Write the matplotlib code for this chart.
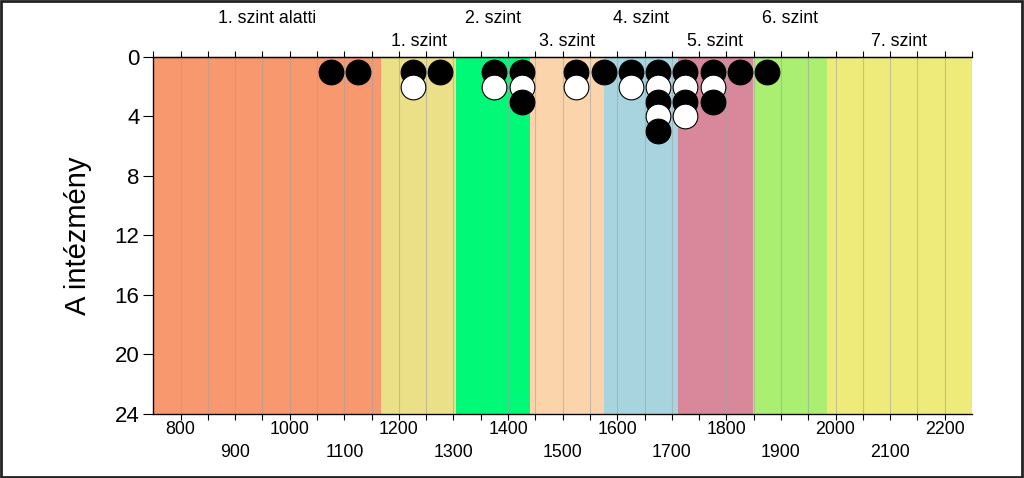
import numpy as np
import matplotlib
matplotlib.use('Agg')
import matplotlib.pyplot as plt
from matplotlib.patches import Rectangle

plt.rcParams['font.family'] = ['Liberation Sans', 'DejaVu Sans']

# szintek hatarai es feliratai
level_edges = [750, 1168, 1304, 1440, 1576, 1712, 1848, 1984, 2250]
level_names = ['1. szint alatti', '1. szint', '2. szint', '3. szint',
               '4. szint', '5. szint', '6. szint', '7. szint']
level_colors = ['#F8986F', '#EBDF88', '#00FA78', '#FCD4AC',
                '#A8D4E0', '#D9889B', '#AAEE72', '#EEEB7A']

# intezmenyek szama pontszam-savonkent
bin_centers = [1075, 1125, 1225, 1275, 1375, 1425, 1525, 1575,
               1625, 1675, 1725, 1775, 1825, 1875]
bin_counts = [1, 1, 2, 1, 2, 3, 2, 1, 2, 5, 4, 3, 1, 1]

yticks = [0, 4, 8, 12, 16, 20, 24]


def main():
    fig = plt.figure(figsize=(10.24, 4.78), dpi=100)
    ax = fig.add_axes([0.1497, 0.1339, 0.7995, 0.7469])

    for i in range(len(level_names)):
        ax.axvspan(level_edges[i], level_edges[i+1], color=level_colors[i], lw=0, zorder=0)

    for x in range(800, 2250, 50):
        ax.axvline(x, color='#a0a0a0', alpha=0.55, lw=0.8, zorder=1)

    # pontok: szintenkent rajzolva, hogy a felso takarja az alsot
    maxc = max(bin_counts)
    for lev in range(1, maxc+1):
        xs = [b for b, c in zip(bin_centers, bin_counts) if c >= lev]
        ys = [lev]*len(xs)
        if lev % 2 == 1:
            ax.plot(xs, ys, 'o', ms=17.8, mfc='black', mec='black', mew=0.8, zorder=2+lev, clip_on=False)
        else:
            ax.plot(xs, ys, 'o', ms=17.8, mfc='white', mec='black', mew=0.8, zorder=2+lev, clip_on=False)

    ax.set_xlim(750, 2250)
    ax.set_ylim(24, 0)
    ax.set_yticks(yticks)
    ax.tick_params(axis='y', labelsize=16, length=7, width=0.8, pad=3)
    ax.set_ylabel('A intézmény', fontsize=21, labelpad=16)

    major = list(range(800, 2250, 100))
    labels = [str(v) if (v // 100) % 2 == 0 else '\n' + str(v) for v in major]
    ax.set_xticks(major)
    ax.set_xticklabels(labels, fontsize=12.8, linespacing=1.45)
    ax.set_xticks(list(range(850, 2250, 100)), minor=True)
    ax.tick_params(axis='x', which='both', length=4, width=0.8, pad=1)

    for s in ['left', 'bottom', 'top']:
        ax.spines[s].set_linewidth(0.9)
    ax.spines['right'].set_visible(False)

    top = ax.twiny()
    top.set_xlim(ax.get_xlim())
    centers = [(level_edges[i]+level_edges[i+1])/2 for i in range(len(level_names))]
    toplabels = [n + '\n' if i % 2 == 0 else n for i, n in enumerate(level_names)]
    top.set_xticks(centers)
    top.set_xticklabels(toplabels, fontsize=12.8, linespacing=1.45)
    top.tick_params(axis='x', which='major', length=0, pad=5)
    top.set_xticks(list(range(750, 2251, 50)), minor=True)
    top.tick_params(axis='x', which='minor', length=4, width=0.8)
    top.spines['right'].set_visible(False)
    top.spines['top'].set_linewidth(0.9)

    fig.patches.append(Rectangle((0.001, 0.002), 0.997, 0.995, transform=fig.transFigure,
                                 fill=False, ec='#222222', lw=2))
    fig.savefig('out.png', dpi=100)


if __name__ == '__main__':
    main()
